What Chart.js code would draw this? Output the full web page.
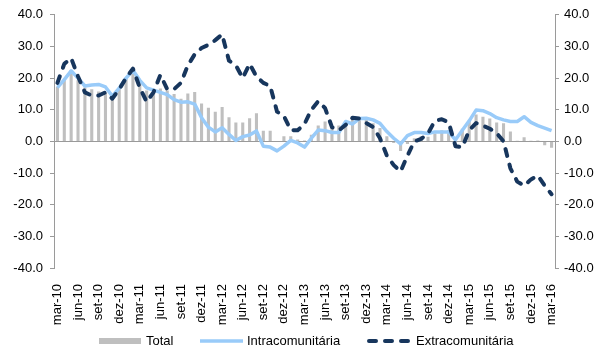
<!DOCTYPE html>
<html lang="pt">
<head>
<meta charset="utf-8">
<title>Taxa de variação homóloga</title>
<script src="https://cdn.jsdelivr.net/npm/chart.js@4.4.1/dist/chart.umd.min.js"></script>
<style>
  html, body { margin: 0; padding: 0; background: #ffffff; }
  #chart { display: block; }
</style>
</head>
<body>
<canvas id="chart" width="604" height="352"></canvas>
<script>
"use strict";

/* ─── Data ──────────────────────────────────────────────────── */

/* Monthly categories, mar-10 .. mar-16 */
const MONTHS = [
  "mar-10", "abr-10", "mai-10", "jun-10", "jul-10", "ago-10", "set-10", "out-10", "nov-10", "dez-10",
  "jan-11", "fev-11", "mar-11", "abr-11", "mai-11", "jun-11", "jul-11", "ago-11", "set-11", "out-11", "nov-11", "dez-11",
  "jan-12", "fev-12", "mar-12", "abr-12", "mai-12", "jun-12", "jul-12", "ago-12", "set-12", "out-12", "nov-12", "dez-12",
  "jan-13", "fev-13", "mar-13", "abr-13", "mai-13", "jun-13", "jul-13", "ago-13", "set-13", "out-13", "nov-13", "dez-13",
  "jan-14", "fev-14", "mar-14", "abr-14", "mai-14", "jun-14", "jul-14", "ago-14", "set-14", "out-14", "nov-14", "dez-14",
  "jan-15", "fev-15", "mar-15", "abr-15", "mai-15", "jun-15", "jul-15", "ago-15", "set-15", "out-15", "nov-15", "dez-15",
  "jan-16", "fev-16", "mar-16",
];

/* Total (bars) */
const TOTAL = [
  17.2, 19.8, 22.5, 19.3, 17.0, 16.5, 15.8, 15.4, 14.0, 16.7,
  19.8, 22.4, 18.2, 16.1, 16.1, 16.7, 16.1, 15.0, 13.5, 15.1, 15.6, 12.0,
  10.6, 9.4, 10.9, 7.6, 6.0, 6.0, 7.3, 8.9, 3.4, 3.4, 0.0, 1.6,
  1.6, 0.6, 0.3, 2.1, 5.0, 6.3, 4.2, 5.0, 4.7, 6.8, 6.8, 6.8,
  5.7, 4.2, 1.6, -0.5, -3.0, -0.8, 1.0, 1.6, 1.5, 2.5, 3.5, 3.5,
  1.5, 4.0, 6.5, 8.5, 7.8, 7.2, 6.0, 5.7, 3.1, 0.2, 1.3, 0.2,
  0.3, -1.2, -2.0,
];

/* Intracomunitária (solid line) */
const INTRA = [
  17.0, 19.5, 22.3, 20.0, 17.5, 17.8, 18.0, 17.2, 14.3, 16.8,
  20.0, 22.5, 19.3, 16.9, 16.2, 15.5, 14.8, 13.2, 12.4, 12.5, 11.8, 7.5,
  4.5, 3.0, 4.3, 2.2, 0.3, 1.5, 2.0, 3.3, -1.5, -1.8, -3.0, -1.5,
  0.3, -0.5, -1.8, 1.0, 3.6, 3.4, 2.8, 2.8, 6.3, 5.5, 7.2, 7.3,
  6.8, 5.7, 3.1, 1.0, -0.8, 1.8, 2.8, 2.8, 2.5, 3.0, 3.0, 3.0,
  0.5, 3.5, 6.5, 9.9, 9.7, 8.8, 7.5, 6.8, 6.3, 6.3, 7.8, 6.0,
  5.0, 4.2, 3.4,
];

/* Extracomunitária (dashed line) */
const EXTRA = [
  18.5, 24.5, 26.3, 20.5, 15.5, 14.5, 14.5, 15.5, 13.5, 16.5,
  20.0, 23.0, 17.0, 12.5, 15.5, 21.0, 16.5, 16.5, 18.5, 24.0, 27.5, 29.5,
  30.5, 32.0, 33.8, 25.5, 24.0, 20.0, 24.5, 20.5, 18.5, 17.5, 9.4, 8.0,
  3.6, 3.5, 5.5, 10.0, 12.7, 10.5, 4.5, 3.5, 5.2, 7.5, 7.2, 5.8,
  4.5, 1.0, -4.5, -7.5, -9.5, -4.5, 0.0, 0.8, 2.5, 6.5, 7.0, 6.0,
  -1.5, -1.8, 3.5, 5.8, 5.0, 4.0, 2.6, 0.0, -8.5, -12.7, -14.0, -12.0,
  -10.8, -14.0, -16.7,
];

/* Series names */
const SERIES = ["Total", "Intracomunitária", "Extracomunitária"];

/* ─── Styles ────────────────────────────────────────────────── */

const FONT = { family: "'Liberation Sans', Arial, sans-serif", size: 13 };
const TEXT_COLOR = "#000000";
const AXIS_COLOR = "#9a9a9a";
const BAR_COLOR = "#bfbfbf";
const INTRA_COLOR = "#99cbf9";
const EXTRA_COLOR = "#17365d";
const EXTRA_DASH = [7, 9];

/* ─── Legend ────────────────────────────────────────────────── */

/*
 * Draws the legend row under the category labels.
 */
const legendRow = {
  id: "legendRow",
  afterDraw(chart) {
    const ctx = chart.ctx;
    const y = 341;
    ctx.save();

    ctx.fillStyle = BAR_COLOR;
    ctx.fillRect(99, y - 3, 42, 6);

    ctx.lineCap = "butt";
    ctx.strokeStyle = INTRA_COLOR;
    ctx.lineWidth = 3.5;
    ctx.beginPath();
    ctx.moveTo(200, y);
    ctx.lineTo(243, y);
    ctx.stroke();

    ctx.lineCap = "round";
    ctx.strokeStyle = EXTRA_COLOR;
    ctx.lineWidth = 4;
    ctx.setLineDash(EXTRA_DASH);
    ctx.beginPath();
    ctx.moveTo(369, y);
    ctx.lineTo(414, y);
    ctx.stroke();
    ctx.setLineDash([]);

    ctx.fillStyle = TEXT_COLOR;
    ctx.font = FONT.size + "px " + FONT.family;
    ctx.textBaseline = "middle";
    ctx.textAlign = "left";
    ctx.fillText(SERIES[0], 146, y);
    ctx.fillText(SERIES[1], 247, y);
    ctx.fillText(SERIES[2], 416, y);
    ctx.restore();
  },
};

/* ─── Chart ─────────────────────────────────────────────────── */

function valueTicks() {
  return {
    stepSize: 10,
    color: TEXT_COLOR,
    font: FONT,
    callback: function (v) {
      return Number(v).toFixed(1);
    },
  };
}

new Chart(document.getElementById("chart"), {
  type: "bar",
  data: {
    labels: MONTHS,
    datasets: [
      {
        type: "line",
        label: SERIES[2],
        data: EXTRA,
        borderColor: EXTRA_COLOR,
        borderWidth: 4,
        borderDash: EXTRA_DASH,
        borderCapStyle: "round",
        borderJoinStyle: "round",
        pointRadius: 0,
        tension: 0,
        fill: false,
        order: 1,
      },
      {
        type: "line",
        label: SERIES[1],
        data: INTRA,
        borderColor: INTRA_COLOR,
        borderWidth: 3.5,
        borderJoinStyle: "round",
        pointRadius: 0,
        tension: 0,
        fill: false,
        order: 2,
      },
      {
        type: "bar",
        label: SERIES[0],
        data: TOTAL,
        backgroundColor: BAR_COLOR,
        borderWidth: 0,
        barPercentage: 0.45,
        categoryPercentage: 1,
        order: 3,
      },
    ],
  },
  options: {
    responsive: false,
    animation: false,
    devicePixelRatio: 1,
    layout: { padding: { top: 12, right: 0, bottom: 0, left: 0 } },
    plugins: {
      legend: { display: false },
      tooltip: { enabled: false },
    },
    scales: {
      x: {
        offset: true,
        grid: { display: false },
        border: { display: false },
        ticks: {
          autoSkip: false,
          minRotation: 90,
          maxRotation: 90,
          padding: 8,
          color: TEXT_COLOR,
          font: FONT,
          callback: function (v, i) {
            return i % 3 === 0 ? MONTHS[i] : "";
          },
        },
        afterFit: function (scale) {
          scale.height = 84;
        },
      },
      y: {
        position: "left",
        min: -40,
        max: 40,
        ticks: Object.assign(valueTicks(), { padding: 7 }),
        grid: {
          color: function (ctx) {
            return ctx.tick && ctx.tick.value === 0 ? AXIS_COLOR : "rgba(0,0,0,0)";
          },
          tickColor: AXIS_COLOR,
          tickLength: 4,
        },
        border: { color: AXIS_COLOR },
        afterFit: function (scale) {
          scale.width = 54;
        },
      },
      y2: {
        position: "right",
        min: -40,
        max: 40,
        ticks: Object.assign(valueTicks(), { padding: 5 }),
        grid: {
          drawOnChartArea: false,
          tickColor: AXIS_COLOR,
          tickLength: 4,
        },
        border: { color: AXIS_COLOR },
        afterFit: function (scale) {
          scale.width = 49;
        },
      },
    },
  },
  plugins: [legendRow],
});
</script>
</body>
</html>
